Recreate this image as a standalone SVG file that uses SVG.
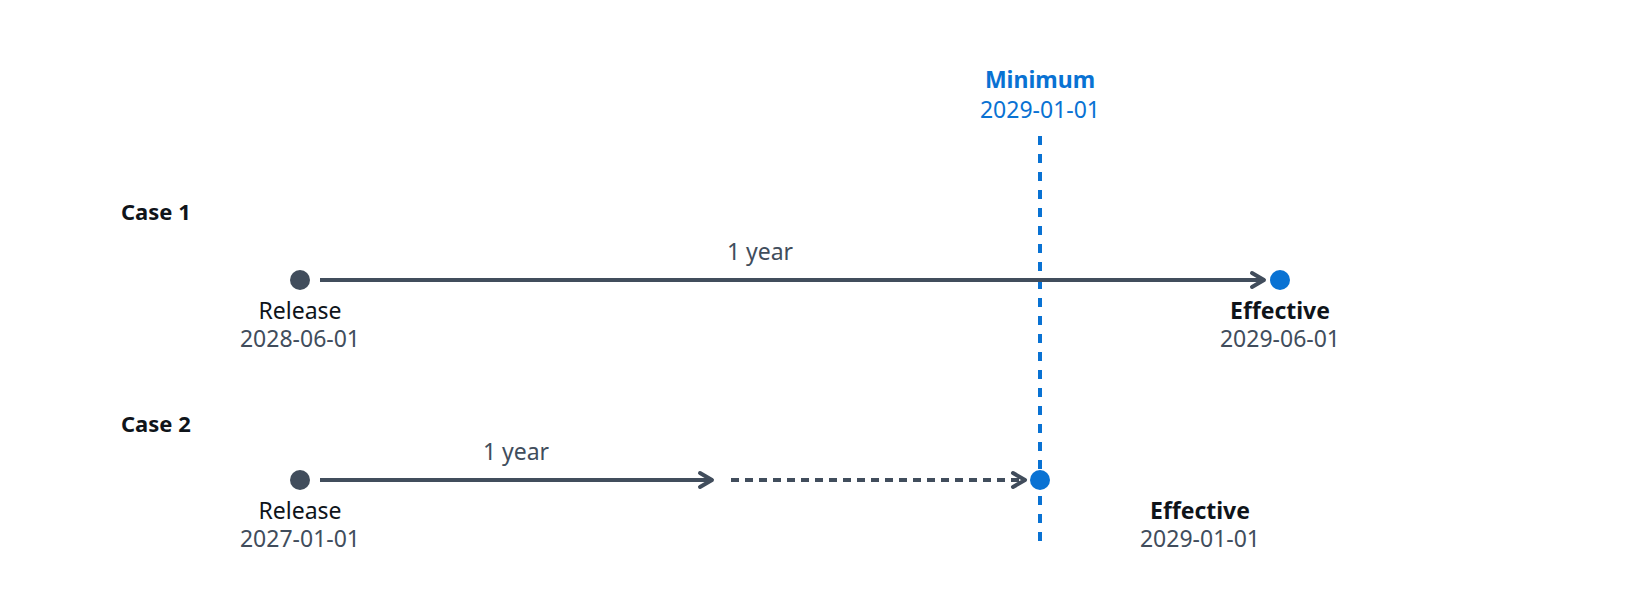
<svg xmlns="http://www.w3.org/2000/svg" width="1640" height="600" viewBox="0 0 1640 600">
  <style>
    text { font-family: "Noto Sans", "Open Sans", sans-serif; font-size: 23px; }
    .title { font-weight: bold; fill: #0f141a; font-size: 22px; }
    .label { fill: #0f141a; text-anchor: middle; }
    .bold { font-weight: bold; }
    .date { fill: #414d5c; text-anchor: middle; }
    .year { fill: #414d5c; text-anchor: middle; }
    .line { stroke: #414d5c; stroke-width: 4; fill: none; }
    .dotted { stroke-dasharray: 8 6; }
    .minline { stroke: #0972d3; stroke-width: 4; stroke-dasharray: 9 9; fill: none; }
    .grey-dot { fill: #414d5c; }
    .blue-dot { fill: #0972d3; }
  </style>
  <defs>
    <marker id="arrow" markerUnits="userSpaceOnUse" markerWidth="20" markerHeight="20" refX="16" refY="10" orient="auto" overflow="visible">
      <path d="M4,3 L16,10 L4,17" fill="none" stroke="#414d5c" stroke-width="4" stroke-linecap="round" stroke-linejoin="round"/>
    </marker>
  </defs>

  <g id="minimum">
    <line class="minline" x1="1040" y1="136" x2="1040" y2="541"/>
    <text class="label bold" x="1040" y="88" style="fill:#0972d3">Minimum</text>
    <text class="date" x="1040" y="118" style="fill:#0972d3">2029-01-01</text>
  </g>

  <g id="connectors">
    <line class="line" x1="320" y1="280" x2="1264" y2="280" marker-end="url(#arrow)"/>
    <text class="year" x="760" y="260">1 year</text>
    <line class="line" x1="320" y1="480" x2="712" y2="480" marker-end="url(#arrow)"/>
    <text class="year" x="516" y="460">1 year</text>
    <line class="line dotted" x1="731" y1="480" x2="1025" y2="480" marker-end="url(#arrow)"/>
  </g>

  <g id="case1">
    <text class="title" x="121" y="220">Case 1</text>
  </g>
  <g id="release1">
    <circle class="grey-dot" cx="300" cy="280" r="10"/>
    <text class="label" x="300" y="319">Release</text>
    <text class="date" x="300" y="347">2028-06-01</text>
  </g>
  <g id="effective1">
    <circle class="blue-dot" cx="1280" cy="280" r="10"/>
    <text class="label bold" x="1280" y="319">Effective</text>
    <text class="date" x="1280" y="347">2029-06-01</text>
  </g>

  <g id="case2">
    <text class="title" x="121" y="432">Case 2</text>
  </g>
  <g id="release2">
    <circle class="grey-dot" cx="300" cy="480" r="10"/>
    <text class="label" x="300" y="519">Release</text>
    <text class="date" x="300" y="547">2027-01-01</text>
  </g>
  <g id="effective2">
    <circle class="blue-dot" cx="1040" cy="480" r="10"/>
    <text class="label bold" x="1200" y="519">Effective</text>
    <text class="date" x="1200" y="547">2029-01-01</text>
  </g>
</svg>
